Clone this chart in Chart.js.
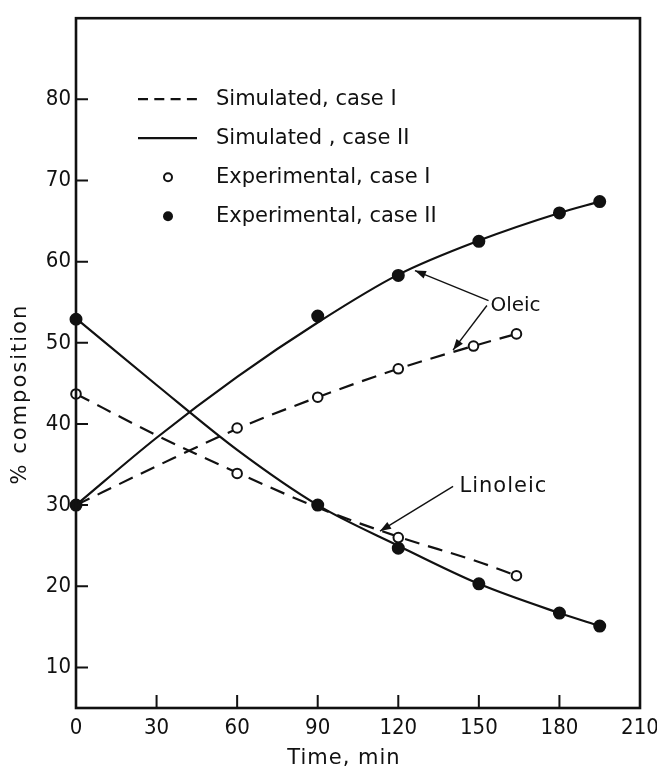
<!DOCTYPE html>
<html>
<head>
<meta charset="utf-8">
<script src="https://cdn.jsdelivr.net/npm/chart.js@4.4.1/dist/chart.umd.min.js"></script>
<style>
html, body { margin: 0; padding: 0; background: #fff; }
#wrap { width: 657px; height: 770px; }
</style>
</head>
<body>
<div id="wrap"><canvas id="myChart"></canvas></div>
<script>
// values

const xTicks = [0, 30, 60, 90, 120, 150, 180, 210];
const yTicks = [10, 20, 30, 40, 50, 60, 70, 80];

// simulated curves
const simTimeI = [0, 30, 60, 90, 120, 150, 164];
const simOleicI = [30, 34.8, 39.4, 43.3, 46.8, 49.8, 51.1];
const simLinoleicI = [43.7, 38.6, 34.0, 29.7, 26.1, 23.0, 21.3];

const simTimeII = [0, 30, 60, 90, 120, 150, 180, 195];
const simOleicII = [30, 38.3, 45.8, 52.5, 58.4, 62.6, 66.0, 67.4];
const simLinoleicII = [53, 44.8, 36.8, 30.0, 25.0, 20.3, 16.7, 15.1];

// experimental points
const expOleicTimeI = [0, 60, 90, 120, 148, 164];
const expOleicI = [30, 39.5, 43.3, 46.8, 49.6, 51.1];
const expLinoleicTimeI = [0, 60, 120, 164];
const expLinoleicI = [43.7, 33.9, 26.0, 21.3];

const expTimeII = [0, 90, 120, 150, 180, 195];
const expOleicII = [30, 53.3, 58.3, 62.5, 66.0, 67.4];
const expLinoleicII = [52.9, 30.0, 24.7, 20.3, 16.7, 15.1];

const legendLabels = [
    'Simulated, case I',
    'Simulated , case II',
    'Experimental, case I',
    'Experimental, case II',
];

const pts = (xs, ys) => xs.map((x, i) => ({ x: x, y: ys[i] }));

const ink = '#111';
const dash = [15, 9];

function simSet(label, xs, ys, dashed) {
    return {
        label: label,
        data: pts(xs, ys),
        borderColor: ink,
        borderWidth: 2.2,
        borderDash: dashed ? dash : [],
        pointRadius: 0,
        tension: 0.4,
        cubicInterpolationMode: 'monotone',
        fill: false,
        order: 1,
        clip: false,
    };
}

function expSet(label, xs, ys, filled) {
    return {
        label: label,
        data: pts(xs, ys),
        showLine: false,
        pointRadius: filled ? 5.5 : 4.8,
        pointBorderWidth: 2,
        pointBorderColor: ink,
        pointBackgroundColor: filled ? ink : '#fff',
        order: 0,
        clip: false,
    };
}

// arrows and labels, in data units
const notes = {
    oleic: { text: 'Oleic', at: [154.3, 54.6], arrows: [[153.6, 55.2, 126.2, 58.9], [153.0, 54.6, 140.4, 49.1]] },
    linoleic: { text: 'Linoleic', at: [142.8, 32.3], arrows: [[140.4, 32.3, 113.2, 26.8]] },
};

function arrow(ctx, x0, y0, x1, y1) {
    const a = Math.atan2(y1 - y0, x1 - x0);
    const L = 11, W = 4;
    ctx.beginPath();
    ctx.moveTo(x0, y0);
    ctx.lineTo(x1, y1);
    ctx.stroke();
    ctx.beginPath();
    ctx.moveTo(x1, y1);
    ctx.lineTo(x1 - L * Math.cos(a) + W * Math.sin(a), y1 - L * Math.sin(a) - W * Math.cos(a));
    ctx.lineTo(x1 - L * Math.cos(a) - W * Math.sin(a), y1 - L * Math.sin(a) + W * Math.cos(a));
    ctx.closePath();
    ctx.fill();
}

const decor = {
    id: 'decor',
    afterDraw(chart) {
        const { ctx, chartArea: a, scales: { x, y } } = chart;
        ctx.save();
        ctx.strokeStyle = ink;
        ctx.fillStyle = ink;

        // frame
        ctx.lineWidth = 2.6;
        ctx.strokeRect(a.left, a.top, a.right - a.left, a.bottom - a.top);

        // inward ticks
        ctx.lineWidth = 2;
        ctx.beginPath();
        yTicks.forEach(v => {
            const py = y.getPixelForValue(v);
            ctx.moveTo(a.left, py);
            ctx.lineTo(a.left + 12, py);
        });
        xTicks.forEach(t => {
            const px = x.getPixelForValue(t);
            ctx.moveTo(px, a.bottom);
            ctx.lineTo(px, a.bottom - 13);
        });
        ctx.stroke();

        // axis titles
        ctx.textAlign = 'center';
        ctx.textBaseline = 'middle';
        ctx.font = '21px "DejaVu Sans"';
        ctx.letterSpacing = '1px';
        ctx.fillText('Time, min', (a.left + a.right) / 2 - 14, 759);
        ctx.save();
        ctx.translate(21, (a.top + a.bottom) / 2 + 31);
        ctx.rotate(-Math.PI / 2);
        ctx.letterSpacing = '2px';
        ctx.fillText('% composition', 0, 0);
        ctx.restore();
        ctx.letterSpacing = '0px';

        // legend
        ctx.textAlign = 'left';
        ctx.font = '21px "DejaVu Sans"';
        legendLabels.forEach((lab, i) => {
            const ry = a.top + 81 + i * 39;
            ctx.lineWidth = 2.2;
            if (i < 2) {
                ctx.setLineDash(i === 0 ? [10, 6.3] : []);
                ctx.beginPath();
                ctx.moveTo(a.left + 62, ry);
                ctx.lineTo(a.left + 121, ry);
                ctx.stroke();
                ctx.setLineDash([]);
            } else {
                ctx.beginPath();
                ctx.arc(a.left + 92, ry, i === 2 ? 4 : 5, 0, Math.PI * 2);
                if (i === 3) ctx.fill();
                else { ctx.lineWidth = 2; ctx.stroke(); }
            }
            ctx.fillText(lab, a.left + 140, ry);
        });

        // annotations
        ctx.lineWidth = 1.4;
        Object.values(notes).forEach(n => {
            n.arrows.forEach(r => arrow(ctx,
                x.getPixelForValue(r[0]), y.getPixelForValue(r[1]),
                x.getPixelForValue(r[2]), y.getPixelForValue(r[3])));
            ctx.font = n.text === 'Oleic' ? '20px "DejaVu Sans"' : '21px "DejaVu Sans"';
            ctx.letterSpacing = n.text === 'Oleic' ? '0px' : '1px';
            ctx.fillText(n.text, x.getPixelForValue(n.at[0]), y.getPixelForValue(n.at[1]));
        });
        ctx.restore();
    }
};

const tickFont = { family: '"DejaVu Sans Condensed", "DejaVu Sans", sans-serif', size: 22 };

const ctx = document.getElementById('myChart').getContext('2d');

const myChart = new Chart(ctx, {
    type: 'line',
    data: {
        datasets: [
            expSet('Experimental, case II oleic', expTimeII, expOleicII, true),
            expSet('Experimental, case II linoleic', expTimeII, expLinoleicII, true),
            expSet('Experimental, case I oleic', expOleicTimeI, expOleicI, false),
            expSet('Experimental, case I linoleic', expLinoleicTimeI, expLinoleicI, false),
            simSet('Simulated, case I oleic', simTimeI, simOleicI, true),
            simSet('Simulated, case I linoleic', simTimeI, simLinoleicI, true),
            simSet('Simulated, case II oleic', simTimeII, simOleicII, false),
            simSet('Simulated, case II linoleic', simTimeII, simLinoleicII, false),
        ],
    },
    options: {
        responsive: true,
        maintainAspectRatio: false,
        animation: false,
        events: [],
        layout: { padding: { top: 14, right: 17, left: 0, bottom: 0 } },
        plugins: {
            legend: { display: false },
            tooltip: { enabled: false },
        },
        scales: {
            x: {
                type: 'linear',
                min: 0,
                max: 210,
                afterBuildTicks: s => { s.ticks = xTicks.map(v => ({ value: v })); },
                afterFit: s => { s.height = 62; s.paddingLeft = 0; s.paddingRight = 0; },
                grid: { display: false, drawTicks: false },
                border: { display: false },
                ticks: { color: ink, font: tickFont, padding: 7, maxRotation: 0, autoSkip: false },
            },
            y: {
                type: 'linear',
                min: 5,
                max: 90,
                afterBuildTicks: s => { s.ticks = yTicks.map(v => ({ value: v })); },
                afterFit: s => { s.width = 76; },
                grid: { display: false, drawTicks: false },
                border: { display: false },
                ticks: { color: ink, font: tickFont, padding: 5 },
            },
        },
    },
    plugins: [decor],
});
</script>
</body>
</html>
